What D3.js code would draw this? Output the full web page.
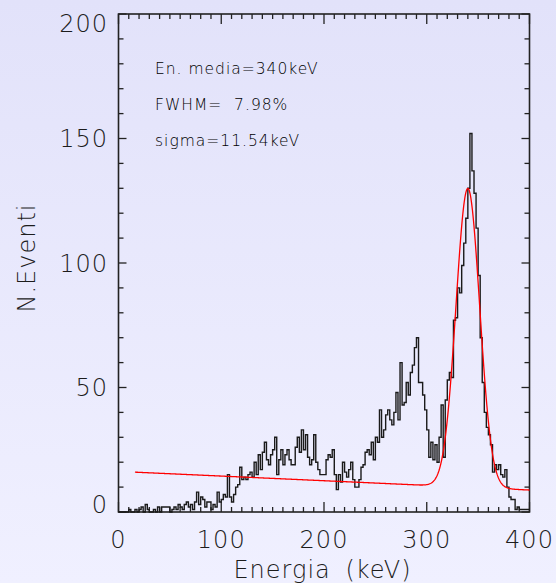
<!DOCTYPE html>
<html>
<head>
<meta charset="utf-8">
<script src="https://cdn.jsdelivr.net/npm/d3@7"></script>
<style>
  body { margin: 0; }
  svg { display: block; }
</style>
</head>
<body>
<svg id="chart"></svg>
<script>
// histogram: 2 keV bins starting at 0 keV
const binWidth = 2;
const counts = [
  0, 0, 0, 0, 0, 1, 0, 0, 1, 0,
  1, 2, 0, 3, 1, 0, 0, 1, 0, 2,
  0, 2, 2, 2, 2, 0, 1, 2, 1, 3,
  2, 1, 3, 4, 2, 3, 1, 4, 8, 3,
  6, 5, 2, 4, 4, 1, 3, 2, 8, 4,
  5, 7, 6, 15, 6, 4, 7, 10, 11, 18,
  13, 14, 13, 15, 16, 14, 20, 15, 23, 17,
  24, 28, 21, 19, 23, 25, 30, 15, 21, 25,
  19, 23, 25, 21, 19, 19, 26, 30, 24, 33,
  25, 31, 22, 19, 21, 31, 20, 17, 15, 15,
  15, 21, 23, 22, 25, 15, 9, 15, 12, 20,
  16, 14, 17, 20, 13, 10, 10, 13, 18, 19,
  24, 25, 23, 28, 21, 30, 28, 41, 30, 33,
  39, 41, 37, 35, 40, 48, 37, 60, 43, 44,
  52, 47, 56, 59, 66, 70, 52, 52, 47, 41,
  33, 22, 28, 21, 27, 20, 30, 43, 22, 45,
  53, 56, 54, 77, 78, 90, 88, 99, 108, 118,
  130, 152, 137, 128, 114, 95, 70, 52, 40, 34,
  31, 27, 16, 19, 17, 19, 15, 14, 17, 10,
  6, 5, 5, 1, 2, 1, 1, 1, 1, 1
];

// gaussian + linear background fit (values printed on the chart)
const fitMean = 340;
const fitSigma = 11.54;
const fitAmplitude = 120;
const bgIntercept = 16.3;
const bgSlope = -0.0187;
const fitRange = [16, 400];

const xTicks = [0, 100, 200, 300, 400];
const yTicks = [0, 50, 100, 150, 200];
const notes = ["En. media=340keV", "FWHM=  7.98%", "sigma=11.54keV"];

const width = 556, height = 583;
const svg = d3.select("#chart").attr("width", width).attr("height", height);

const defs = svg.append("defs");
const grad = defs.append("linearGradient")
  .attr("id", "bg").attr("x1", 0).attr("y1", 0).attr("x2", 0).attr("y2", 1);
grad.append("stop").attr("offset", "0%").attr("stop-color", "#e2e2fa");
grad.append("stop").attr("offset", "100%").attr("stop-color", "#f0f0ff");
svg.append("rect").attr("width", width).attr("height", height).attr("fill", "url(#bg)");

const x = d3.scaleLinear().domain([0, 400]).range([118.5, 529.5]);
const y = d3.scaleLinear().domain([0, 200]).range([512, 14]);

const font = "'DejaVu Sans', sans-serif";
const textColor = "#1c1c1c";
const axisColor = "#222";

// ticks on all four sides, pointing inward
const xMinor = d3.range(0, 401, 10);
const yMinor = d3.range(0, 201, 10);
const tickG = svg.append("g").attr("stroke", axisColor).attr("stroke-width", 1.3);

tickG.selectAll("line.xb").data(xMinor).join("line")
  .attr("x1", d => x(d)).attr("x2", d => x(d))
  .attr("y1", y(0)).attr("y2", d => y(0) - (d % 100 === 0 ? 10 : 5));
tickG.selectAll("line.xt").data(xMinor).join("line")
  .attr("x1", d => x(d)).attr("x2", d => x(d))
  .attr("y1", y(200)).attr("y2", d => y(200) + (d % 100 === 0 ? 10 : 5));
tickG.selectAll("line.yl").data(yMinor).join("line")
  .attr("y1", d => y(d)).attr("y2", d => y(d))
  .attr("x1", x(0)).attr("x2", d => x(0) + (d % 50 === 0 ? 8 : 5));
tickG.selectAll("line.yr").data(yMinor).join("line")
  .attr("y1", d => y(d)).attr("y2", d => y(d))
  .attr("x1", x(400)).attr("x2", d => x(400) - (d % 50 === 0 ? 8 : 5));

svg.append("rect")
  .attr("x", x(0)).attr("y", y(200))
  .attr("width", x(400) - x(0)).attr("height", y(0) - y(200))
  .attr("fill", "none").attr("stroke", axisColor).attr("stroke-width", 1.6);

// histogram
const steps = counts.map((c, i) => [i * binWidth, c]);
steps.push([counts.length * binWidth, counts[counts.length - 1]]);
svg.append("path")
  .datum(steps)
  .attr("fill", "none")
  .attr("stroke", "#1a1a1a")
  .attr("stroke-width", 1.4)
  .attr("d", d3.line().x(d => x(d[0])).y(d => y(d[1])).curve(d3.curveStepAfter));

// fit
const fitPts = d3.range(fitRange[0], fitRange[1] + 0.01, 0.5).map(e => [
  e,
  bgIntercept + bgSlope * e + fitAmplitude * Math.exp(-0.5 * ((e - fitMean) / fitSigma) ** 2)
]);
svg.append("path")
  .datum(fitPts)
  .attr("fill", "none")
  .attr("stroke", "#ff0000")
  .attr("stroke-width", 1.3)
  .attr("d", d3.line().x(d => x(d[0])).y(d => y(d[1])));

// tick labels
svg.append("g").selectAll("text").data(yTicks).join("text")
  .attr("x", 108)
  .attr("y", d => Math.min(Math.max(y(d), y(200) + 9), y(0) - 8))
  .attr("dy", "0.36em")
  .attr("text-anchor", "end")
  .attr("font-family", font).attr("font-size", 24).attr("font-weight", 200)
  .attr("letter-spacing", 1)
  .attr("fill", textColor)
  .text(d => d);

svg.append("g").selectAll("text").data(xTicks).join("text")
  .attr("x", d => x(d))
  .attr("y", 548)
  .attr("text-anchor", "middle")
  .attr("font-family", font).attr("font-size", 24).attr("font-weight", 200)
  .attr("letter-spacing", 1)
  .attr("fill", textColor)
  .text(d => d);

// axis titles
svg.append("text")
  .attr("x", 322.5).attr("y", 578)
  .attr("text-anchor", "middle")
  .attr("font-family", font).attr("font-size", 24).attr("font-weight", 200)
  .attr("letter-spacing", 1)
  .attr("word-spacing", 6)
  .attr("fill", textColor)
  .text("Energia (keV)");

svg.append("text")
  .attr("transform", "translate(35,258) rotate(-90)")
  .attr("text-anchor", "middle")
  .attr("font-family", font).attr("font-size", 24).attr("font-weight", 200)
  .attr("letter-spacing", 1)
  .attr("fill", textColor)
  .text("N.Eventi");

// fit results
svg.append("g").selectAll("text").data(notes).join("text")
  .attr("x", 155)
  .attr("y", (d, i) => 74 + i * 36)
  .attr("font-family", font).attr("font-size", 15.5).attr("font-weight", 200)
  .attr("letter-spacing", 1)
  .attr("fill", "#000")
  .style("white-space", "pre")
  .text(d => d);
</script>
</body>
</html>
